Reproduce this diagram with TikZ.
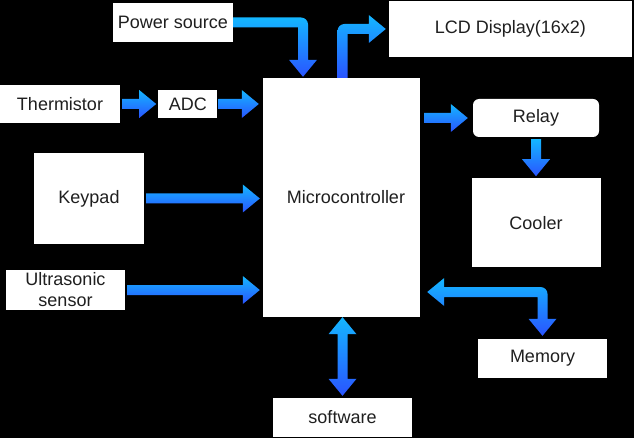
\documentclass[tikz,border=0pt]{standalone}
\usepackage{fontspec}
\setmainfont{Liberation Sans}
\usetikzlibrary{positioning, calc}

\definecolor{flowtop}{RGB}{20,182,255}
\definecolor{flowbot}{RGB}{42,84,255}

% straight flex arrows, tip at the second point
\newcommand{\rightflow}[2]{%
  \shade[flow] let \p1=#1, \p2=#2 in
    (\x1,\y1+5pt) -- (\x2-17pt,\y1+5pt) -- (\x2-17pt,\y1+14pt) -- (\x2,\y1)
    -- (\x2-17pt,\y1-14pt) -- (\x2-17pt,\y1-5pt) -- (\x1,\y1-5pt) -- cycle;}
\newcommand{\downflow}[2]{%
  \shade[flow] let \p1=#1, \p2=#2 in
    (\x1-5pt,\y1) -- (\x1-5pt,\y2+17pt) -- (\x1-14pt,\y2+17pt) -- (\x1,\y2)
    -- (\x1+14pt,\y2+17pt) -- (\x1+5pt,\y2+17pt) -- (\x1+5pt,\y1) -- cycle;}

\begin{document}
\begin{tikzpicture}[
    x=1pt, y=-1pt,
    node distance=38pt,
    box/.style={rectangle, fill=#1, inner sep=0pt, font=\fontsize{18}{21}\selectfont, text=black!88, align=center},
    box/.default=white,
    flow/.style={top color=flowtop, bottom color=flowbot}
]
\fill[black] (0,0) rectangle (634,438);

\node (mcu) [box, minimum width=157pt, minimum height=239pt] at (341.5,197.5) {\hspace*{9pt}Microcontroller};
\node (power) [box, minimum width=120pt, minimum height=39pt] at (173,22.5) {Power source};
\node (lcd) [box, minimum width=243pt, minimum height=56pt] at (510.5,29) {LCD Display(16x2)};
\node (therm) [box, minimum width=120pt, minimum height=38pt] at (60,104) {Thermistor};
\node (adc) [box, minimum width=59pt, minimum height=28pt, right=38pt of therm] {ADC};
\node (keypad) [box, minimum width=110pt, minimum height=91pt] at (89,198.5) {Keypad};
\node (ultra) [box, minimum width=119pt, minimum height=40pt] at (65.5,290) {Ultrasonic\\sensor};
\node (relay) [box, rounded corners=6pt, minimum width=126pt, minimum height=38pt] at (536,118) {Relay};
\node (cooler) [box, minimum width=129pt, minimum height=89pt, below=41pt of relay] {Cooler};
\node (memory) [box, minimum width=129pt, minimum height=39pt] at (542.5,358.5) {Memory};
\node (software) [box, minimum width=139pt, minimum height=39pt] at (342.5,417.5) {software};

\coordinate (pwrin) at ($(mcu.north)+(-38.5,-1)$);
\coordinate (memout) at ($(mcu.east)+(7,94.5)$);

% inputs
\rightflow{($(therm.east)+(2,0)$)}{($(adc.west)+(-2,0)$)}
\rightflow{($(adc.east)+(1,0)$)}{($(mcu.west |- adc.east)+(-4,0)$)}
\rightflow{($(keypad.east)+(2,0)$)}{($(mcu.west |- keypad.east)+(-3,0)$)}
\rightflow{($(ultra.east)+(2,0)$)}{($(mcu.west |- ultra.east)+(-3,0)$)}
\shade[flow] let \p1=(power.east), \p2=(pwrin) in
  (\x1,\y1+5pt) -- (\x2-2pt,\y1+5pt) arc[start angle=90, end angle=0, radius=7pt]
  -- (\x2+5pt,\y2+17pt) -- (\x2+14pt,\y2+17pt) -- (\x2,\y2) -- (\x2-14pt,\y2+17pt)
  -- (\x2-5pt,\y2+17pt) -- (\x2-5pt,\y1-5pt) -- (\x1,\y1-5pt) -- cycle;

% outputs
\shade[flow] let \p1=($(mcu.north)+(1,0)$), \p2=($(lcd.west)+(-3,0)$) in
  (\x1-5pt,\y1) -- (\x1-5pt,\y2-2pt) arc[start angle=180, end angle=90, radius=7pt]
  -- (\x2-17pt,\y2+5pt) -- (\x2-17pt,\y2+14pt) -- (\x2,\y2) -- (\x2-17pt,\y2-14pt)
  -- (\x2-17pt,\y2-5pt) -- (\x1+5pt,\y2-5pt) -- (\x1+5pt,\y1) -- cycle;
\rightflow{($(mcu.east |- relay.west)+(4,0)$)}{($(relay.west)+(-5,0)$)}
\downflow{($(relay.south)+(0,2)$)}{($(cooler.north -| relay.south)+(0,-2)$)}

% both ways
\shade[flow] let \p1=(mcu.south -| software.north), \p2=($(software.north)+(0,-2)$) in
  (\x1,\y1) -- (\x1+14pt,\y1-17pt) -- (\x1+5pt,\y1-17pt) -- (\x1+5pt,\y2+17pt)
  -- (\x1+14pt,\y2+17pt) -- (\x1,\y2) -- (\x1-14pt,\y2+17pt) -- (\x1-5pt,\y2+17pt)
  -- (\x1-5pt,\y1-17pt) -- (\x1-14pt,\y1-17pt) -- cycle;
\shade[flow] let \p1=(memout), \p2=($(memory.north)+(0,-3)$) in
  (\x1,\y1) -- (\x1+17pt,\y1+14pt) -- (\x1+17pt,\y1+5pt) -- (\x2-2pt,\y1+5pt)
  arc[start angle=90, end angle=0, radius=7pt] -- (\x2+5pt,\y2+17pt) -- (\x2+14pt,\y2+17pt)
  -- (\x2,\y2) -- (\x2-14pt,\y2+17pt) -- (\x2-5pt,\y2+17pt) -- (\x2-5pt,\y1-5pt)
  -- (\x1+17pt,\y1-5pt) -- (\x1+17pt,\y1-14pt) -- cycle;
\end{tikzpicture}
\end{document}
